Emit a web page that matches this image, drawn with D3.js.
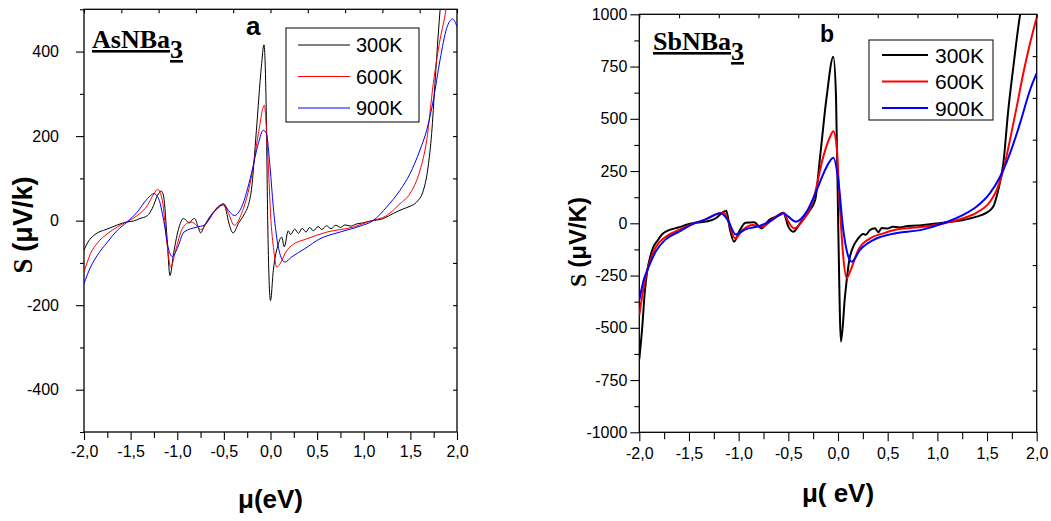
<!DOCTYPE html>
<html>
<head>
<meta charset="utf-8">
<script src="https://cdn.jsdelivr.net/npm/d3@7"></script>
<style>
  body { margin: 0; background: #fff; }
  svg { display: block; }
  text { font-family: "Liberation Sans", Arial, sans-serif; fill: #000; }
</style>
</head>
<body>
<svg id="chart" width="1051" height="521"></svg>
<script>
// Seebeck coefficient S (µV/K) vs chemical potential µ (eV)

var temps = ["300K", "600K", "900K"];
var colors = ["#000000", "#ff0000", "#0000ff"];

// panel a : AsNBa3
var as300 = [[-2.0,-70],[-1.95,-48],[-1.9,-36],[-1.84,-27],[-1.79,-23],[-1.72,-17],[-1.64,-10],[-1.54,-3],[-1.47,-1],[-1.40,5],[-1.32,12],[-1.27,28],[-1.21,60],[-1.17,70],[-1.145,56],[-1.11,-39],[-1.078,-130],[-1.04,-78],[-0.98,-15],[-0.935,5],[-0.90,0],[-0.874,-6],[-0.84,2],[-0.813,5],[-0.78,-12],[-0.749,-29],[-0.72,-18],[-0.695,-7],[-0.624,17],[-0.56,30],[-0.506,40],[-0.48,28],[-0.453,0],[-0.40,-29],[-0.345,-7],[-0.277,17],[-0.24,35],[-0.205,72],[-0.151,214],[-0.098,364],[-0.07,416],[-0.044,238],[-0.03,0],[0.0,-189],[0.03,-118],[0.084,-55],[0.12,-39],[0.148,-62],[0.19,-24],[0.215,-33],[0.26,-20],[0.30,-30],[0.34,-18],[0.38,-27],[0.42,-16],[0.46,-24],[0.51,-14],[0.55,-21],[0.60,-12],[0.65,-19],[0.70,-11],[0.75,-16],[0.80,-10],[0.86,-13],[0.92,-8],[1.0,-5],[1.07,-1],[1.21,5],[1.317,17],[1.424,28],[1.496,34],[1.567,44],[1.64,72],[1.69,127],[1.728,206],[1.764,325],[1.80,444],[1.84,560],[1.88,680]];
var as600 = [[-2.0,-122],[-1.93,-78],[-1.857,-53],[-1.75,-31],[-1.643,-15],[-1.536,-2],[-1.43,12],[-1.32,36],[-1.25,64],[-1.21,74],[-1.16,48],[-1.11,-55],[-1.07,-110],[-1.017,-70],[-0.946,-19],[-0.856,-3],[-0.785,-13],[-0.75,-21],[-0.678,-3],[-0.57,32],[-0.5,40],[-0.45,17],[-0.388,-11],[-0.31,17],[-0.205,103],[-0.13,206],[-0.066,273],[-0.03,159],[0.005,0],[0.04,-78],[0.066,-110],[0.12,-95],[0.155,-78],[0.226,-59],[0.39,-43],[0.605,-27],[0.89,-15],[1.07,-1],[1.245,12],[1.389,40],[1.496,64],[1.603,119],[1.675,190],[1.746,325],[1.818,428],[1.882,499],[1.92,560]];
var as900 = [[-2.0,-149],[-1.93,-110],[-1.857,-82],[-1.75,-51],[-1.643,-23],[-1.536,-3],[-1.43,20],[-1.32,52],[-1.25,64],[-1.2,52],[-1.145,0],[-1.09,-70],[-1.053,-85],[-1.0,-66],[-0.928,-27],[-0.785,-15],[-0.713,-11],[-0.606,20],[-0.534,36],[-0.5,37],[-0.45,24],[-0.388,12],[-0.31,32],[-0.205,111],[-0.13,183],[-0.077,214],[-0.044,206],[-0.005,127],[0.03,32],[0.066,-39],[0.12,-90],[0.155,-98],[0.226,-86],[0.37,-66],[0.53,-43],[0.745,-27],[0.96,-13],[1.10,0],[1.245,32],[1.389,72],[1.496,111],[1.603,167],[1.675,214],[1.746,285],[1.818,380],[1.889,455],[1.953,477],[2.0,459]];

// panel b : SbNBa3
var sb300 = [[-2.0,-650],[-1.97,-495],[-1.945,-330],[-1.92,-228],[-1.89,-160],[-1.86,-115],[-1.82,-85],[-1.77,-52],[-1.734,-40],[-1.60,-19],[-1.467,0],[-1.332,8],[-1.23,24],[-1.164,51],[-1.124,60],[-1.09,-24],[-1.047,-88],[-0.996,-40],[-0.93,3],[-0.845,5],[-0.768,-24],[-0.694,16],[-0.584,40],[-0.55,51],[-0.50,-16],[-0.45,-40],[-0.382,0],[-0.282,64],[-0.23,111],[-0.18,319],[-0.114,606],[-0.047,797],[-0.02,606],[0.003,-32],[0.03,-566],[0.07,-351],[0.12,-160],[0.204,-72],[0.255,-51],[0.28,-55],[0.322,-32],[0.372,-24],[0.406,-43],[0.44,-22],[0.50,-25],[0.55,-16],[0.62,-20],[0.70,-13],[0.80,-11],[0.86,-8],[1.06,3],[1.26,16],[1.396,32],[1.497,51],[1.563,80],[1.613,159],[1.664,287],[1.714,542],[1.765,749],[1.815,940],[1.86,1080]];
var sb600 = [[-2.0,-440],[-1.95,-290],[-1.92,-225],[-1.88,-165],[-1.835,-115],[-1.734,-64],[-1.60,-32],[-1.467,-3],[-1.332,19],[-1.198,48],[-1.147,51],[-1.097,0],[-1.037,-72],[-0.96,-32],[-0.86,-8],[-0.76,-16],[-0.66,19],[-0.55,51],[-0.50,8],[-0.443,-24],[-0.35,16],[-0.25,111],[-0.148,319],[-0.08,414],[-0.047,441],[-0.013,366],[0.017,96],[0.053,-160],[0.087,-263],[0.128,-223],[0.204,-128],[0.322,-72],[0.456,-48],[0.59,-30],[0.859,-16],[1.094,3],[1.26,24],[1.396,51],[1.53,103],[1.597,159],[1.664,255],[1.731,399],[1.799,558],[1.865,718],[1.933,861],[2.0,985]];
var sb900 = [[-2.0,-367],[-1.95,-262],[-1.92,-225],[-1.88,-180],[-1.835,-135],[-1.734,-77],[-1.60,-40],[-1.467,-5],[-1.332,19],[-1.18,48],[-1.11,16],[-1.03,-53],[-0.93,-29],[-0.79,-13],[-0.66,16],[-0.55,48],[-0.50,32],[-0.423,8],[-0.315,56],[-0.214,159],[-0.114,271],[-0.047,314],[0.003,207],[0.053,-32],[0.104,-160],[0.138,-184],[0.22,-128],[0.355,-80],[0.523,-53],[0.859,-29],[1.06,0],[1.26,40],[1.396,80],[1.53,144],[1.631,223],[1.731,335],[1.832,478],[1.933,638],[2.0,718]];

// ticks
var xMajor = [-2, -1.5, -1, -0.5, 0, 0.5, 1, 1.5, 2];
var xMinor = [-1.75, -1.25, -0.75, -0.25, 0.25, 0.75, 1.25, 1.75];
var xTop = [-2, -1.6, -1.2, -0.8, -0.4, 0, 0.4, 0.8, 1.2, 1.6, 2];
var aYMajor = [-400, -200, 0, 200, 400];
var aYMinor = [-500, -300, -100, 100, 300, 500];
var aYRight = [-400, -300, -200, -100, 0, 100, 200, 300, 400];
var bYMajor = [-1000, -750, -500, -250, 0, 250, 500, 750, 1000];
var bYMinor = [-875, -625, -375, -125, 125, 375, 625, 875];
var bYRight = [-800, -600, -400, -200, 0, 200, 400, 600, 800];

var svg = d3.select("#chart");
// plain hyphen minus and decimal comma, like the original
var xFmt = function (d) { return d.toFixed(1).replace(".", ","); };
var yFmt = function (d) { return String(d); };

function drawPanel(p) {
    var x = d3.scaleLinear().domain([-2, 2]).range([p.left, p.right]);
    var y = d3.scaleLinear().domain(p.yDomain).range([p.bottom, p.top]);
    var g = svg.append("g");

    g.append("clipPath").attr("id", p.id + "-clip")
        .append("rect")
        .attr("x", p.left).attr("y", p.top)
        .attr("width", p.right - p.left).attr("height", p.bottom - p.top);

    // bottom axis
    var bx = g.append("g").attr("transform", "translate(0," + p.bottom + ")")
        .call(d3.axisBottom(x).tickValues(xMajor).tickFormat(xFmt).tickSize(p.tick).tickPadding(6));
    g.append("g").attr("transform", "translate(0," + p.bottom + ")")
        .call(d3.axisBottom(x).tickValues(xMinor).tickFormat("").tickSize(p.tick - 2));
    bx.selectAll("text").style("font-size", p.tickFont + "px");

    // left axis
    var ly = g.append("g").attr("transform", "translate(" + p.left + ",0)")
        .call(d3.axisLeft(y).tickValues(p.yMajor).tickFormat(yFmt).tickSize(p.tick).tickPadding(p.yPad));
    g.append("g").attr("transform", "translate(" + p.left + ",0)")
        .call(d3.axisLeft(y).tickValues(p.yMinor).tickFormat("").tickSize(p.tick - 4));
    ly.selectAll("text").style("font-size", p.tickFont + "px");

    // top and right, ticks inward
    g.append("g").attr("transform", "translate(0," + p.top + ")")
        .call(d3.axisBottom(x).tickValues(xTop).tickFormat("").tickSize(4));
    g.append("g").attr("transform", "translate(" + p.right + ",0)")
        .call(d3.axisLeft(y).tickValues(p.yRight).tickFormat("").tickSize(4));

    g.selectAll(".domain").remove();
    g.selectAll(".tick line").attr("stroke", "#000").attr("stroke-width", 1.1);
    g.append("rect")
        .attr("x", p.left).attr("y", p.top)
        .attr("width", p.right - p.left).attr("height", p.bottom - p.top)
        .attr("fill", "none").attr("stroke", "#000").attr("stroke-width", 1.3);

    // curves
    var line = d3.line()
        .x(function (d) { return x(d[0]); })
        .y(function (d) { return y(d[1]); })
        .curve(d3.curveMonotoneX);
    g.append("g").attr("clip-path", "url(#" + p.id + "-clip)")
        .selectAll("path")
        .data(p.series)
        .enter().append("path")
        .attr("d", line)
        .attr("fill", "none")
        .attr("stroke", function (d, i) { return colors[i]; })
        .attr("stroke-width", p.lineWidth)
        .attr("stroke-linejoin", "round");

    // compound name
    var t = g.append("text")
        .attr("x", p.nameX).attr("y", p.nameY)
        .style("font-family", "'Liberation Serif', 'Times New Roman', serif")
        .style("font-weight", "bold").style("font-size", "26px");
    t.append("tspan").style("text-decoration", "underline").text(p.name);
    t.append("tspan").attr("dy", 10).style("text-decoration", "underline").text("3");

    // panel letter
    g.append("text").attr("x", p.letterX).attr("y", p.letterY)
        .style("font-weight", "bold").style("font-size", p.letterFont + "px")
        .text(p.letter);

    // legend
    var lg = g.append("g");
    lg.append("rect")
        .attr("x", p.legX).attr("y", p.legY)
        .attr("width", p.legW).attr("height", p.legH)
        .attr("fill", "#fff").attr("stroke", "#000").attr("stroke-width", 1);
    temps.forEach(function (name, i) {
        var yy = p.legY + p.legRow0 + i * p.legStep;
        lg.append("line")
            .attr("x1", p.legX + p.legLine0).attr("x2", p.legX + p.legLine1)
            .attr("y1", yy).attr("y2", yy)
            .attr("stroke", colors[i]).attr("stroke-width", p.lineWidth);
        lg.append("text")
            .attr("x", p.legX + p.legText).attr("y", yy)
            .attr("dy", "0.36em")
            .style("font-size", p.legFont + "px")
            .text(name);
    });

    // axis titles
    g.append("text")
        .attr("x", (p.left + p.right) / 2).attr("y", p.xLabY)
        .attr("text-anchor", "middle")
        .style("font-weight", "bold").style("font-size", "26px")
        .text(p.xLabel);

    var yl = g.append("text")
        .attr("transform", "translate(" + p.yLabX + "," + p.yLabY + ") rotate(-90)")
        .attr("text-anchor", "middle")
        .style("font-weight", "bold").style("font-size", p.yLabFont + "px");
    yl.append("tspan")
        .style("font-family", "'Liberation Serif', 'Times New Roman', serif")
        .text("S ");
    yl.append("tspan").text(p.yLabel);
}

drawPanel({
    id: "a", left: 84, right: 457, top: 9.3, bottom: 432,
    yDomain: [-500, 500], yMajor: aYMajor, yMinor: aYMinor, yRight: aYRight,
    tick: 8, yPad: 17, tickFont: 16, lineWidth: 1,
    series: [as300, as600, as900],
    name: "AsNBa", nameX: 92, nameY: 48,
    letter: "a", letterX: 246, letterY: 35, letterFont: 26,
    legX: 286, legY: 28, legW: 133, legH: 94, legRow0: 17, legStep: 31.5,
    legLine0: 12, legLine1: 64, legText: 70, legFont: 20,
    xLabel: "\u03bc(eV)", xLabY: 508,
    yLabel: "(\u03bcV/k)", yLabX: 32, yLabY: 225, yLabFont: 27
});

drawPanel({
    id: "b", left: 639.3, right: 1036.7, top: 14.3, bottom: 432.3,
    yDomain: [-1000, 1000], yMajor: bYMajor, yMinor: bYMinor, yRight: bYRight,
    tick: 9, yPad: 3, tickFont: 16, lineWidth: 2,
    series: [sb300, sb600, sb900],
    name: "SbNBa", nameX: 653, nameY: 50,
    letter: "b", letterX: 820, letterY: 41.7, letterFont: 23,
    legX: 869, legY: 40, legW: 124, legH: 80, legRow0: 15, legStep: 26.5,
    legLine0: 13, legLine1: 59, legText: 66, legFont: 21,
    xLabel: "\u03bc( eV)", xLabY: 502,
    yLabel: "(\u03bcV/K)", yLabX: 586, yLabY: 242, yLabFont: 24
});
</script>
</body>
</html>
